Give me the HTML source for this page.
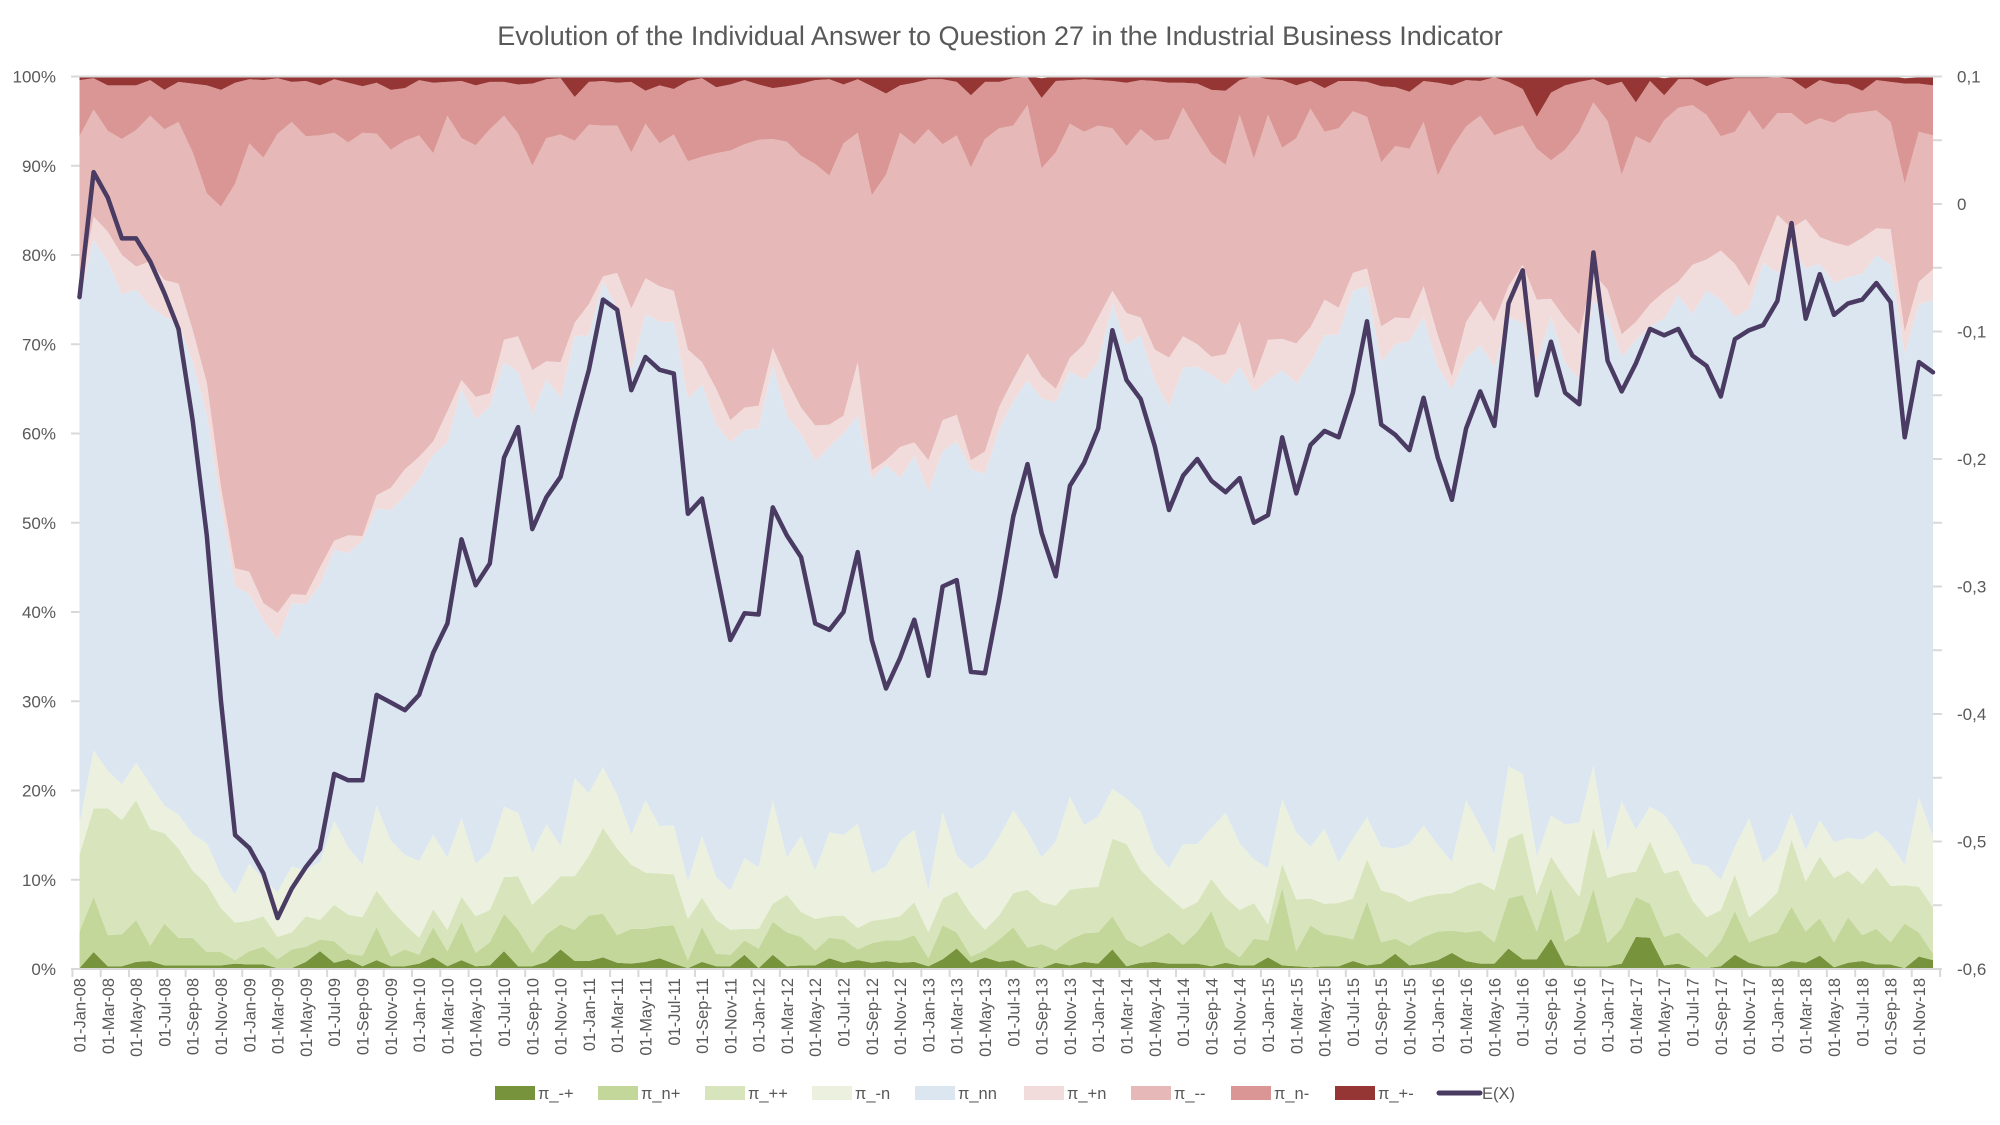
<!DOCTYPE html>
<html><head><meta charset="utf-8"><title>Question 27 chart</title>
<style>
html,body{margin:0;padding:0;background:#fff;}
svg{display:block;font-family:"Liberation Sans",sans-serif;}
</style></head>
<body>
<svg id="chart" width="2000" height="1125" viewBox="0 0 2000 1125" xmlns="http://www.w3.org/2000/svg">
<rect width="2000" height="1125" fill="#fff"/>
<text x="1000" y="45" text-anchor="middle" font-size="27" fill="#595959">Evolution of the Individual Answer to Question 27 in the Industrial Business Indicator</text>
<g id="areas"></g>
<g id="axes"></g>
<g id="line"></g>
<g id="legend"></g>
</svg>
<script>
const startYear = 2008;
const monthNames = ["Jan","Feb","Mar","Apr","May","Jun","Jul","Aug","Sep","Oct","Nov","Dec"];
const seriesNames = ["π_-+","π_n+","π_++","π_-n","π_nn","π_+n","π_--","π_n-","π_+-"];
const seriesColors = ["#77933c","#c4d79b","#d8e4bc","#ebf1de","#dce6f1","#f2dcdb","#e6b8b7","#da9694","#963634"];
const leftTicks = ["0%","10%","20%","30%","40%","50%","60%","70%","80%","90%","100%"];
const rightTicks = ["-0,6","-0,5","-0,4","-0,3","-0,2","-0,1","0","0,1"];

const sMinusPlus = [0.1,1.9,0.3,0.3,0.8,0.9,0.4,0.4,0.4,0.4,0.4,0.6,0.5,0.5,0.1,0.1,0.8,2.0,0.7,1.1,0.3,1.0,0.3,0.3,0.6,1.3,0.3,1.0,0.3,0.4,2.0,0.3,0.3,0.8,2.2,0.9,0.9,1.3,0.7,0.6,0.8,1.2,0.6,0.1,0.8,0.3,0.3,1.6,0.1,1.6,0.3,0.4,0.4,1.2,0.7,1.0,0.7,0.9,0.7,0.8,0.3,1.1,2.3,0.7,1.3,0.8,1.0,0.3,0.1,0.7,0.4,0.8,0.6,2.2,0.3,0.7,0.8,0.6,0.6,0.6,0.3,0.7,0.4,0.4,1.3,0.4,0.3,0.2,0.3,0.3,0.9,0.4,0.6,1.7,0.4,0.6,1.0,1.8,0.9,0.6,0.6,2.3,1.1,1.1,3.4,0.4,0.3,0.3,0.3,0.6,3.6,3.5,0.4,0.6,0.1,0.1,0.3,1.6,0.7,0.3,0.3,0.9,0.7,1.5,0.2,0.7,0.9,0.5,0.5,0.1,1.4,1.0];
const sNPlus = [4.1,6.2,3.5,3.6,4.7,1.7,4.7,3.1,3.1,1.5,1.5,0.4,1.5,2.0,1.0,2.1,1.7,1.3,2.4,0.6,1.2,3.7,1.1,1.9,1.0,3.4,1.7,4.3,1.5,2.6,4.2,4.1,1.5,3.1,2.8,3.5,5.1,4.9,3.1,3.9,3.7,3.6,4.3,0.9,3.9,1.4,1.3,1.6,2.2,3.7,3.8,3.2,1.7,2.3,2.6,1.2,2.2,2.3,2.5,3.0,0.9,3.8,1.8,0.7,0.8,2.5,3.7,2.1,2.7,1.4,2.9,3.2,3.5,3.7,3.0,1.8,2.4,3.5,2.1,3.6,6.2,1.8,0.9,3.0,1.9,8.7,1.7,4.7,3.6,3.4,2.4,7.2,2.4,1.7,2.2,3.0,3.2,2.5,3.2,3.7,2.4,5.6,7.2,3.1,5.7,2.7,3.8,8.7,2.6,4.0,4.5,3.8,3.2,3.5,2.6,1.2,2.8,4.9,2.3,3.3,3.8,6.1,3.5,4.2,2.8,5.1,2.9,4.0,2.5,5.0,2.7,0.7];
const sPlusPlus = [8.6,9.9,14.2,12.8,13.4,13.1,10.1,10.0,7.5,7.6,4.9,4.2,3.4,3.4,2.5,1.9,3.4,2.2,4.1,4.4,4.3,4.1,5.3,2.8,1.9,2.0,2.4,2.8,4.1,3.6,4.1,6.0,5.4,4.8,5.4,6.0,6.7,9.6,9.7,7.2,6.3,5.9,5.7,4.6,3.3,3.8,2.8,1.3,2.2,2.0,4.2,2.8,3.5,2.4,2.7,2.4,2.5,2.4,2.7,3.7,2.9,3.0,4.6,4.8,2.3,2.7,3.8,6.5,4.7,5.0,5.6,5.1,5.1,8.7,10.7,8.6,6.3,4.0,4.0,3.3,3.6,5.5,5.3,4.0,1.8,2.7,5.8,3.0,3.4,3.7,4.6,4.7,5.8,5.0,4.9,4.5,4.2,4.2,5.2,5.4,5.8,6.7,6.9,4.1,3.5,7.1,4.0,6.8,7.3,6.1,2.8,7.0,7.1,7.0,5.0,4.5,3.5,4.1,2.8,3.4,4.5,7.5,5.6,6.9,7.2,5.2,5.7,6.9,6.3,4.3,5.1,5.2];
const sMinusN = [3.5,6.5,4.2,4.0,4.2,5.0,3.1,3.8,4.1,4.6,3.7,3.2,6.4,4.1,5.0,7.4,5.1,6.5,9.4,7.5,5.9,9.5,7.7,7.8,8.6,8.3,8.1,8.8,5.9,6.6,7.9,7.1,5.8,7.5,3.4,11.0,7.0,6.8,6.0,3.4,8.1,5.3,5.5,4.2,6.9,4.8,4.4,7.9,6.9,11.6,4.2,8.5,5.4,9.4,9.0,11.7,5.3,5.9,8.4,8.1,4.7,9.7,4.0,5.0,7.9,8.8,9.3,6.5,5.0,7.2,10.4,7.0,7.9,5.6,5.1,6.5,3.7,3.2,7.3,6.5,5.7,9.5,7.5,4.9,6.3,7.2,7.5,5.8,8.4,4.5,6.7,4.7,4.9,5.1,6.5,8.0,5.5,3.5,9.6,6.3,4.1,8.1,6.7,4.3,4.6,6.0,8.3,7.0,3.0,8.1,4.7,3.9,6.6,3.9,4.1,5.8,3.4,3.1,11.1,4.9,4.8,3.0,3.5,4.1,4.0,3.7,5.0,4.1,4.7,2.3,10.0,8.0];
const sNN = [58.7,57.2,57.0,54.9,53.0,53.5,54.8,55.1,52.9,48.0,41.5,34.5,30.2,29.0,28.3,29.5,29.9,31.0,30.4,33.0,36.3,33.3,37.0,40.2,42.8,42.6,46.5,48.1,49.8,49.8,49.8,49.4,49.1,49.9,50.2,49.5,51.3,54.5,54.5,51.9,54.5,56.5,56.4,54.1,50.6,50.7,50.2,48.0,49.2,48.7,49.5,45.0,45.9,43.2,45.0,45.7,44.2,45.0,40.7,41.9,44.7,40.4,46.4,44.8,43.2,45.7,45.8,50.6,51.4,49.2,47.7,49.9,50.9,54.3,50.9,53.4,52.7,51.7,53.4,53.5,50.8,47.9,53.4,52.3,54.7,48.1,50.3,54.2,55.3,59.2,61.4,59.5,54.3,56.5,56.4,56.9,53.6,52.9,49.6,53.9,54.6,50.3,50.5,55.4,55.9,51.7,49.7,52.2,59.9,49.8,54.9,53.8,55.6,60.5,61.6,64.4,65.0,59.3,57.1,67.2,64.6,63.5,65.2,62.3,62.7,62.8,63.4,64.5,64.9,57.2,55.3,60.0];
const sPlusN = [1.0,2.6,3.4,4.4,2.6,5.1,4.1,4.4,3.6,3.6,2.0,2.0,2.5,2.0,3.0,1.0,1.0,2.0,1.0,2.0,0.5,1.5,2.5,3.0,2.5,1.5,3.5,1.0,2.5,1.5,2.5,4.0,5.0,2.0,4.0,1.5,3.5,0.5,4.0,7.0,4.0,4.0,3.5,5.5,2.5,4.0,2.5,2.5,2.5,2.0,4.0,3.0,4.0,2.5,2.0,6.0,1.0,0.5,3.5,1.5,3.5,3.5,3.0,1.0,2.5,2.5,2.5,3.0,2.5,1.5,1.5,4.0,5.0,1.5,3.5,2.0,3.5,5.5,3.5,2.5,2.0,3.5,5.0,1.5,4.5,3.5,4.5,4.0,4.0,3.0,2.0,2.0,4.0,3.0,2.5,3.5,3.5,1.5,4.0,5.0,5.0,3.5,6.5,7.0,2.0,5.0,5.0,3.0,3.0,2.5,2.0,2.5,3.0,1.5,5.5,3.5,5.5,6.0,2.5,1.5,6.5,2.0,5.5,3.0,4.5,3.5,4.0,3.0,4.0,2.5,2.5,3.5];
const sMinusMinus = [17.3,12.0,11.3,13.0,15.3,16.3,16.9,18.1,19.9,21.2,31.4,43.1,48.0,49.9,53.7,52.9,51.4,48.4,45.7,44.0,45.2,40.5,37.9,36.8,36.0,32.3,33.1,27.1,28.2,29.6,25.1,22.7,22.9,25.0,25.5,20.4,20.1,16.9,16.5,17.5,17.3,16.0,17.5,21.1,23.0,26.4,30.2,29.5,29.8,23.4,26.7,28.2,29.3,27.9,30.5,25.7,30.8,32.0,35.2,33.4,37.1,30.9,31.3,32.8,35.0,31.2,28.4,27.8,23.3,26.5,26.2,23.8,21.5,18.2,18.7,21.1,23.4,24.5,25.6,23.8,22.7,21.2,23.2,24.7,25.2,21.4,23.0,24.5,18.8,20.1,18.1,17.0,18.4,19.2,19.0,18.4,17.9,25.6,21.9,20.7,20.9,17.5,15.6,16.9,15.5,18.9,22.7,19.1,18.9,17.9,20.8,18.0,19.2,19.5,17.9,16.2,12.8,14.8,19.7,13.4,11.4,12.9,10.6,13.3,13.4,14.8,14.1,13.2,12.0,16.6,16.8,15.0];
const sNMinus = [6.3,3.5,5.1,6.0,5.0,4.0,4.4,4.5,7.7,12.1,13.1,11.3,7.2,8.7,6.2,4.5,6.2,5.6,6.0,6.7,5.2,5.7,6.7,5.9,6.2,7.9,3.8,6.4,6.7,5.3,3.8,5.5,9.2,6.6,6.3,4.9,4.8,5.0,4.8,7.9,3.7,6.5,5.1,9.0,8.8,7.4,7.4,7.2,6.2,5.7,6.2,8.1,9.4,10.8,6.6,6.0,12.2,9.1,5.3,6.9,5.6,7.3,6.0,8.1,6.4,5.2,5.3,3.1,7.9,8.0,4.9,5.9,5.1,5.3,7.1,5.5,6.7,6.3,2.8,5.4,7.2,8.3,3.9,9.2,4.0,7.6,5.9,3.1,4.9,5.3,3.4,3.9,8.5,6.6,6.4,4.6,10.4,7.0,5.2,3.9,6.5,5.4,4.1,3.6,7.6,7.2,5.6,2.6,4.0,10.4,3.8,7.0,2.8,3.2,2.9,3.2,6.2,6.0,3.6,5.8,4.0,3.8,4.0,4.3,4.4,3.3,2.4,3.4,4.5,11.2,5.4,5.6];
const sPlusMinus = [0.4,0.3,1.0,0.9,0.9,0.5,1.4,0.5,0.7,0.9,1.4,0.7,0.4,0.4,0.2,0.7,0.5,1.0,0.4,0.9,1.0,0.7,1.4,1.3,0.3,0.7,0.6,0.5,1.0,0.6,0.6,0.9,0.9,0.4,0.2,2.2,0.6,0.6,0.7,0.6,1.5,1.0,1.4,0.4,0.1,1.2,0.9,0.3,1.0,1.4,1.1,0.7,0.3,0.3,0.9,0.3,1.0,1.9,0.9,0.7,0.3,0.4,0.7,2.1,0.6,0.6,0.3,0.1,2.2,0.5,0.4,0.4,0.4,0.5,0.7,0.4,0.4,0.7,0.7,0.7,1.6,1.5,0.4,0.1,0.3,0.5,1.1,0.4,1.3,0.6,0.6,0.6,1.1,1.2,1.6,0.5,0.7,0.9,0.4,0.4,0.2,0.6,1.3,4.5,1.9,0.9,0.7,0.3,1.1,0.7,2.9,0.5,1.9,0.3,0.2,1.0,0.6,0.3,0.2,0.3,0.1,0.3,1.4,0.4,0.7,0.9,1.5,0.4,0.6,0.6,0.7,0.9];
const exValues = [-0.073,0.025,0.005,-0.027,-0.027,-0.045,-0.07,-0.098,-0.17,-0.26,-0.39,-0.495,-0.505,-0.525,-0.56,-0.537,-0.52,-0.506,-0.447,-0.452,-0.452,-0.385,-0.391,-0.397,-0.385,-0.352,-0.329,-0.263,-0.299,-0.282,-0.199,-0.175,-0.255,-0.23,-0.214,-0.171,-0.13,-0.075,-0.083,-0.146,-0.12,-0.13,-0.133,-0.243,-0.231,-0.287,-0.342,-0.321,-0.322,-0.238,-0.26,-0.277,-0.329,-0.334,-0.32,-0.273,-0.342,-0.38,-0.356,-0.326,-0.37,-0.3,-0.295,-0.367,-0.368,-0.31,-0.245,-0.204,-0.258,-0.292,-0.221,-0.203,-0.176,-0.099,-0.138,-0.153,-0.19,-0.24,-0.213,-0.2,-0.217,-0.226,-0.215,-0.25,-0.244,-0.183,-0.227,-0.189,-0.178,-0.183,-0.148,-0.092,-0.173,-0.181,-0.193,-0.152,-0.199,-0.232,-0.176,-0.147,-0.174,-0.078,-0.052,-0.15,-0.108,-0.148,-0.157,-0.038,-0.123,-0.147,-0.125,-0.098,-0.103,-0.098,-0.119,-0.127,-0.151,-0.106,-0.099,-0.095,-0.076,-0.015,-0.09,-0.055,-0.087,-0.078,-0.075,-0.062,-0.077,-0.183,-0.124,-0.132];

const NS = "http://www.w3.org/2000/svg";
const series = [sMinusPlus,sNPlus,sPlusPlus,sMinusN,sNN,sPlusN,sMinusMinus,sNMinus,sPlusMinus];
const N = exValues.length;
const categories = [];
for (let i = 0; i < N; i++) {
  const m = i % 12, y = startYear + Math.floor(i / 12);
  categories.push("01-" + monthNames[m] + "-" + String(y % 100).padStart(2, "0"));
}
const PL = 79.5, PR = 1933, PT = 76.5, PB = 969;
const RMIN = -0.6, RMAX = 0.1;
function xPos(i){ return PL + (PR - PL) * i / (N - 1); }
function yLeft(p){ return PB - (PB - PT) * p / 100; }
function yRight(v){ return PB - (PB - PT) * (v - RMIN) / (RMAX - RMIN); }
function mk(tag, attrs, parent){
  const e = document.createElementNS(NS, tag);
  for (const k in attrs) e.setAttribute(k, attrs[k]);
  parent.appendChild(e);
  return e;
}

const areas = document.getElementById("areas");
const cum = new Array(N).fill(0);
series.forEach((s, si) => {
  const lower = cum.slice();
  for (let i = 0; i < N; i++) cum[i] = Math.min(100, cum[i] + s[i]);
  if (si === series.length - 1) for (let i = 0; i < N; i++) cum[i] = Math.max(cum[i], lower[i]);
  let d = "";
  for (let i = 0; i < N; i++) d += (i ? "L" : "M") + xPos(i).toFixed(1) + "," + yLeft(cum[i]).toFixed(1);
  for (let i = N - 1; i >= 0; i--) d += "L" + xPos(i).toFixed(1) + "," + yLeft(lower[i]).toFixed(1);
  d += "Z";
  const p = mk("path", {d: d, fill: seriesColors[si]}, areas);
  
  
});

const axes = document.getElementById("axes");
const grey = "#d9d9d9", txt = "#595959";
const topLine = mk("line", {x1: PL, x2: PR, y1: PT, y2: PT, stroke: grey, "stroke-width": 2}, axes);


const xAxis = mk("line", {x1: xPos(-0.5), x2: xPos(N - 0.5), y1: PB, y2: PB, stroke: grey, "stroke-width": 2}, axes);


leftTicks.forEach((lab, k) => {
  const y = yLeft(k * 10);
  const t = mk("line", {x1: 71, x2: PL, y1: y, y2: y, stroke: grey, "stroke-width": 2}, axes);
  
  
  const tx = mk("text", {x: 56, y: y + 6, "text-anchor": "end", "font-size": 17, fill: txt}, axes);
  tx.textContent = lab;
  
  
});
for (let k = 0; k <= 14; k++) {
  const v = RMIN + k * 0.05;
  const y = yRight(v);
  const t = mk("line", {x1: PR, x2: PR + 9, y1: y, y2: y, stroke: grey, "stroke-width": 2}, axes);
  
  
}
rightTicks.forEach((lab, k) => {
  const y = yRight(RMIN + k * 0.1);
  const tx = mk("text", {x: 1957, y: y + 6, "text-anchor": "start", "font-size": 17, fill: txt}, axes);
  tx.textContent = lab;
  
  
});
for (let i = -0.5; i <= N - 0.5; i += 2) {
  const x = xPos(i);
  const t = mk("line", {x1: x, x2: x, y1: PB, y2: PB + 8, stroke: grey, "stroke-width": 2}, axes);
  
  
}
for (let i = 0; i < N; i += 2) {
  const x = xPos(i) + 6;
  const tx = mk("text", {x: 0, y: 0, transform: "translate(" + x.toFixed(1) + "," + (PB + 9) + ") rotate(-90)", "text-anchor": "end", "font-size": 16.5, fill: txt}, axes);
  tx.textContent = categories[i];
  
  
}

const lineG = document.getElementById("line");
let ld = "";
for (let i = 0; i < N; i++) ld += (i ? "L" : "M") + xPos(i).toFixed(1) + "," + yRight(exValues[i]).toFixed(1);
const ln = mk("path", {d: ld, fill: "none", stroke: "#4a3b63", "stroke-width": 4.5, "stroke-linejoin": "round", "stroke-linecap": "round"}, lineG);



const legend = document.getElementById("legend");
const legX = [495, 598, 705, 812, 915, 1024, 1131, 1231, 1335];
const LY = 1093;
seriesNames.forEach((nm, k) => {
  const g = mk("g", {}, legend);
  
  
  mk("rect", {x: legX[k], y: LY - 7, width: 40, height: 14, fill: seriesColors[k]}, g);
  const t = mk("text", {x: legX[k] + 43, y: LY + 6, "font-size": 16.5, fill: txt}, g);
  t.textContent = nm;
});
const gl = mk("g", {}, legend);


mk("line", {x1: 1439, x2: 1480, y1: LY, y2: LY, stroke: "#4a3b63", "stroke-width": 5, "stroke-linecap": "round"}, gl);
const et = mk("text", {x: 1482, y: LY + 6, "font-size": 16.5, fill: txt}, gl);
et.textContent = "E(X)";
</script>
</body></html>
